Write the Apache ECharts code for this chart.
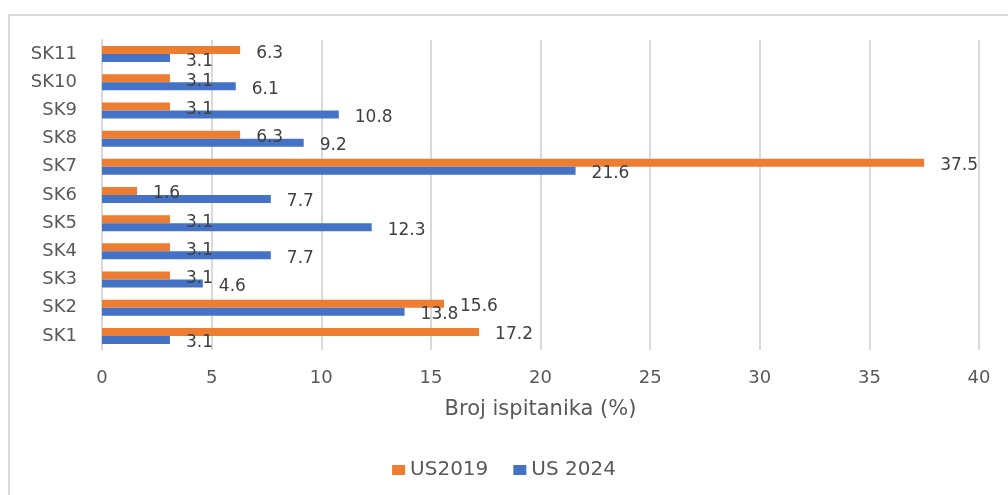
<!DOCTYPE html>
<html>
<head>
<meta charset="utf-8">
<script src="https://cdn.jsdelivr.net/npm/echarts@6/dist/echarts.min.js"></script>
<style>
  html, body { margin: 0; padding: 0; background: #fff; }
  #chart { width: 1008px; height: 495px; }
</style>
</head>
<body>
<div id="chart"></div>
<script>
const categories = ["SK1", "SK2", "SK3", "SK4", "SK5", "SK6", "SK7", "SK8", "SK9", "SK10", "SK11"];
const us2019 = [17.2, 15.6, 3.1, 3.1, 3.1, 1.6, 37.5, 6.3, 3.1, 3.1, 6.3];
const us2024 = [3.1, 13.8, 4.6, 7.7, 12.3, 7.7, 21.6, 9.2, 10.8, 6.1, 3.1];
const xTicks = { min: 0, max: 40, interval: 5 };

const chart = echarts.init(document.getElementById("chart"));
const font = "DejaVu Sans";

const labelStyle = {
  show: true,
  position: "right",
  distance: 16,
  offset: [0, 3],
  color: "#404040",
  fontSize: 17,
  fontFamily: font,
};

chart.setOption({
  animation: false,
  textStyle: { fontFamily: font },
  graphic: [
    {
      type: "polyline",
      shape: { points: [[9, 495], [9, 15], [1008, 15]] },
      style: { stroke: "#d9d9d9", lineWidth: 2, fill: null },
      silent: true,
    },
  ],
  grid: { left: 102, right: 29, top: 40, bottom: 145 },
  legend: {
    bottom: 10,
    left: "center",
    data: ["US2019", "US 2024"],
    itemWidth: 13,
    itemHeight: 10,
    itemGap: 25,
    icon: "rect",
    textStyle: { color: "#595959", fontSize: 20, fontFamily: font },
  },
  xAxis: {
    type: "value",
    min: xTicks.min,
    max: xTicks.max,
    interval: xTicks.interval,
    name: "Broj ispitanika (%)",
    nameLocation: "middle",
    nameGap: 49,
    nameTextStyle: { color: "#595959", fontSize: 21 },
    axisLine: { show: false },
    axisTick: { show: false },
    axisLabel: { color: "#595959", fontSize: 18, margin: 19 },
    splitLine: { lineStyle: { color: "#d9d9d9", width: 2 } },
  },
  yAxis: {
    type: "category",
    data: categories,
    axisLine: { show: true, lineStyle: { color: "#d9d9d9", width: 2 } },
    axisTick: { show: false },
    axisLabel: { color: "#595959", fontSize: 18, margin: 25 },
  },
  series: [
    {
      name: "US2019",
      type: "bar",
      data: us2019,
      barWidth: 8,
      barGap: "0%",
      itemStyle: { color: "#ED7D31" },
      label: labelStyle,
    },
    {
      name: "US 2024",
      type: "bar",
      data: us2024,
      barWidth: 8,
      barGap: "0%",
      itemStyle: { color: "#4472C4" },
      label: labelStyle,
    },
  ],
});
</script>
</body>
</html>
